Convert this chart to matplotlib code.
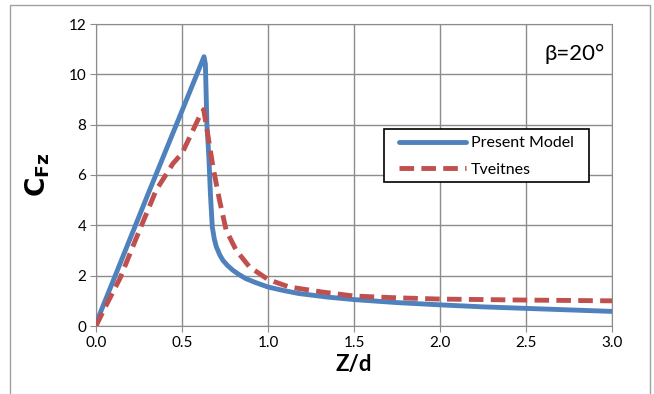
import matplotlib.pyplot as plt
from matplotlib.patches import Rectangle

# data
z_model = [0.0, 0.10, 0.30, 0.50, 0.628, 0.636, 0.645, 0.652, 0.657, 0.665, 0.676, 0.688,
           0.70, 0.72, 0.738, 0.765, 0.795, 0.83, 0.872, 0.93, 1.0, 1.09, 1.18, 1.345,
           1.5, 1.75, 2.0, 2.25, 2.5, 2.75, 3.0]
c_model = [0.1, 1.8, 5.2, 8.55, 10.7, 10.4, 8.0, 7.2, 6.6, 5.27, 3.94, 3.45,
           3.14, 2.82, 2.61, 2.4, 2.22, 2.05, 1.88, 1.72, 1.55, 1.41, 1.29, 1.15,
           1.05, 0.93, 0.84, 0.76, 0.70, 0.64, 0.58]

z_tveitnes = [0.0, 0.05, 0.14, 0.237, 0.35, 0.448, 0.5, 0.564, 0.60, 0.626, 0.65, 0.68,
              0.718, 0.757, 0.815, 0.892, 1.0, 1.123, 1.316, 1.5, 1.75, 2.0, 2.5, 3.0]
c_tveitnes = [0.0, 0.7, 1.9, 3.54, 5.4, 6.46, 6.86, 7.78, 8.3, 8.6, 7.6, 6.33,
              5.0, 3.8, 3.01, 2.35, 1.85, 1.55, 1.35, 1.19, 1.12, 1.07, 1.03, 1.0]

xticks = [0.0, 0.5, 1.0, 1.5, 2.0, 2.5, 3.0]
yticks = [0, 2, 4, 6, 8, 10, 12]

plt.rcParams['font.family'] = ['Lato', 'DejaVu Sans']

W, H = 654, 394
fig = plt.figure(figsize=(W / 100, H / 100), dpi=100)
fig.patches.append(Rectangle((10 / W, -0.01), 640 / W, 1 - 5 / H + 0.01,
                             transform=fig.transFigure, fill=False,
                             edgecolor='#a0a0a0', linewidth=1))
ax = fig.add_axes([96 / W, 68 / H, 516 / W, 302 / H])

ax.plot(z_model, c_model, color='#4F81BD', linewidth=3.5, label='Present Model',
        solid_joinstyle='round', solid_capstyle='round', zorder=3)
ax.plot(z_tveitnes, c_tveitnes, color='#C0504D', linewidth=3.5, dashes=(3, 1.5),
        label='Tveitnes', zorder=3)

ax.set_xlim(0, 3.0)
ax.set_ylim(0, 12)
ax.set_xticks(xticks)
ax.set_xticklabels([f'{t:.1f}' for t in xticks])
ax.set_yticks(yticks)
ax.grid(True, color='#8c8c8c', linewidth=1)
ax.set_axisbelow(True)
for s in ax.spines.values():
    s.set_color('#8c8c8c')
ax.tick_params(direction='out', length=4, color='#8c8c8c', labelsize=11, pad=3)

ax.set_xlabel('Z/d', fontsize=16, fontweight='bold', labelpad=3)
ax.set_ylabel(r'$\mathbf{C}_{\mathbf{Fz}}$', fontsize=19, labelpad=12)

ax.text(0.985, 0.9, 'β=20°', transform=ax.transAxes, fontsize=16,
        ha='right', va='center')

# legend box drawn separately so its padding matches the reference
ax.add_patch(Rectangle(((384 - 96) / 516, (326 - 182) / 302), 205 / 516, 53 / 302,
                       transform=ax.transAxes, facecolor='white', edgecolor='black',
                       linewidth=1.2, zorder=5))
leg = ax.legend(loc='upper left', bbox_to_anchor=((399 - 96) / 516, (326 - 136) / 302),
                borderaxespad=0, borderpad=0, fontsize=11.5, frameon=False,
                handlelength=4.2, handletextpad=0.3, labelspacing=0.78)
leg.set_zorder(6)

fig.savefig('out.png', dpi=100)
